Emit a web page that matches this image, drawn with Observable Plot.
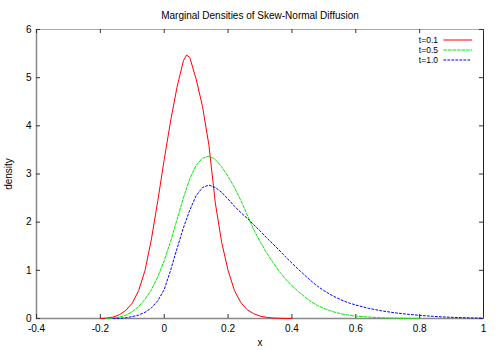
<!DOCTYPE html>
<html><head><meta charset="utf-8">
<script src="https://cdn.jsdelivr.net/npm/d3@7"></script>
<script src="https://cdn.jsdelivr.net/npm/@observablehq/plot@0.6"></script>
<style>body{margin:0;background:#fff}</style>
</head><body><div id="chart"></div>
<script>
const title = "Marginal Densities of Skew-Normal Diffusion";
const xLabel = "x";
const yLabel = "density";
const seriesNames = ["t=0.1", "t=0.5", "t=1.0"];
const xTicks = [-0.4, -0.2, 0, 0.2, 0.4, 0.6, 0.8, 1];
const xTickLabels = ["-0.4", "-0.2", "0", "0.2", "0.4", "0.6", "0.8", "1"];
const yTicks = [0, 1, 2, 3, 4, 5, 6];
const yTickLabels = ["0", "1", "2", "3", "4", "5", "6"];

const x01 = [-0.2, -0.18, -0.16, -0.14, -0.12, -0.10, -0.08, -0.06, -0.04, -0.02, 0.00, 0.02, 0.04, 0.06, 0.07, 0.08, 0.10, 0.12, 0.14, 0.16, 0.18, 0.20, 0.22, 0.24, 0.26, 0.28, 0.30, 0.32, 0.34, 0.36, 0.40];
const y01 = [0.00, 0.01, 0.03, 0.08, 0.17, 0.32, 0.58, 1.00, 1.65, 2.45, 3.30, 4.10, 4.80, 5.35, 5.47, 5.42, 4.97, 4.40, 3.60, 2.40, 1.58, 1.00, 0.58, 0.33, 0.18, 0.10, 0.05, 0.025, 0.01, 0.005, 0];

const x05 = [-0.18, -0.16, -0.14, -0.12, -0.10, -0.08, -0.06, -0.04, -0.02, 0.00, 0.02, 0.04, 0.06, 0.08, 0.10, 0.12, 0.14, 0.16, 0.18, 0.20, 0.22, 0.24, 0.26, 0.28, 0.30, 0.32, 0.34, 0.36, 0.38, 0.40, 0.42, 0.44, 0.46, 0.48, 0.50, 0.52, 0.54, 0.56, 0.58, 0.60, 0.64, 0.68, 0.72, 0.76, 0.80];
const y05 = [0.00, 0.01, 0.03, 0.07, 0.14, 0.25, 0.40, 0.60, 0.87, 1.20, 1.60, 2.05, 2.50, 2.90, 3.18, 3.33, 3.37, 3.30, 3.15, 2.95, 2.72, 2.45, 2.15, 1.85, 1.60, 1.37, 1.17, 0.98, 0.82, 0.68, 0.56, 0.45, 0.35, 0.27, 0.21, 0.16, 0.12, 0.09, 0.07, 0.05, 0.03, 0.015, 0.007, 0.003, 0];

const x10 = [-0.16, -0.14, -0.12, -0.10, -0.08, -0.06, -0.04, -0.02, 0.00, 0.02, 0.04, 0.06, 0.08, 0.10, 0.12, 0.14, 0.16, 0.18, 0.20, 0.22, 0.24, 0.26, 0.28, 0.30, 0.32, 0.34, 0.36, 0.38, 0.40, 0.42, 0.44, 0.46, 0.48, 0.50, 0.52, 0.54, 0.56, 0.58, 0.60, 0.64, 0.68, 0.72, 0.76, 0.80, 0.84, 0.88, 0.92, 0.96, 1.00];
const y10 = [0.00, 0.005, 0.015, 0.04, 0.07, 0.13, 0.22, 0.37, 0.60, 1.00, 1.45, 1.88, 2.25, 2.55, 2.72, 2.77, 2.72, 2.62, 2.48, 2.33, 2.20, 2.08, 1.95, 1.82, 1.68, 1.55, 1.42, 1.28, 1.15, 1.02, 0.90, 0.78, 0.67, 0.58, 0.50, 0.43, 0.37, 0.32, 0.28, 0.21, 0.16, 0.12, 0.09, 0.065, 0.045, 0.03, 0.02, 0.012, 0.007];

const toRows = (xs, ys) => xs.map((x, i) => ({x, y: ys[i]}));
const series = [
  {name: seriesNames[0], rows: toRows(x01, y01), stroke: "#ff0000", dash: null},
  {name: seriesNames[1], rows: toRows(x05, y05), stroke: "#00ee00", dash: "3,1.5"},
  {name: seriesNames[2], rows: toRows(x10, y10), stroke: "#0000ff", dash: "2,2"}
];

const W = 500, H = 350, mL = 36, mR = 17, mT = 29, mB = 32;
const fw = W - mL - mR, fh = H - mT - mB;
const tickLen = 4;
const font = "Liberation Sans, Arial, Helvetica, sans-serif";
const lineShape = {draw(ctx, l) { ctx.moveTo(0, 0); ctx.lineTo(0, -l); }};
const rowGap = 10;
const row0 = 10.5;

const marks = [
  // frame
  Plot.ruleY([yTicks[yTicks.length - 1]], {stroke: "#aaa", strokeWidth: 1}),
  Plot.ruleX([xTicks[xTicks.length - 1]], {stroke: "#222", strokeWidth: 1}),
  Plot.ruleY([yTicks[0]], {stroke: "#888", strokeWidth: 1.5}),
  Plot.ruleX([xTicks[0]], {stroke: "#888", strokeWidth: 1.5}),
  // inward ticks (mirrored)
  Plot.tickX(xTicks, {x: d => d, insetTop: fh - tickLen, stroke: "#333"}),
  Plot.tickX(xTicks, {x: d => d, insetBottom: fh - tickLen, stroke: "#333"}),
  Plot.tickY(yTicks, {y: d => d, insetRight: fw - tickLen, stroke: "#333"}),
  Plot.tickY(yTicks, {y: d => d, insetLeft: fw - tickLen, stroke: "#333"}),
  // tick labels
  Plot.axisX({ticks: xTicks, tickSize: 0, tickPadding: 6, label: null, fontSize: 10,
    tickFormat: d => xTickLabels[xTicks.indexOf(d)]}),
  Plot.axisY({ticks: yTicks, tickSize: 0, tickPadding: 5, label: null, fontSize: 10,
    tickFormat: d => yTickLabels[yTicks.indexOf(d)]}),
  // axis labels and title
  Plot.text([title], {text: d => d, frameAnchor: "top", lineAnchor: "middle", dy: -14, fontSize: 10}),
  Plot.text([xLabel], {text: d => d, frameAnchor: "bottom", lineAnchor: "middle", dy: 24, fontSize: 10}),
  Plot.text([yLabel], {text: d => d, frameAnchor: "left", textAnchor: "middle", lineAnchor: "middle", rotate: -90, dx: -27.5, fontSize: 10}),
];

series.forEach((s) => {
  marks.push(Plot.line(s.rows, {x: "x", y: "y", stroke: s.stroke, strokeWidth: 1, strokeDasharray: s.dash}));
});
series.forEach((s, i) => {
  marks.push(Plot.text([s.name], {text: d => d, frameAnchor: "top-right", textAnchor: "end", lineAnchor: "middle", dx: -45.5, dy: row0 + i * rowGap, fontSize: 8.5}));
  marks.push(Plot.vector([s.name], {frameAnchor: "top-right", anchor: "start", rotate: 90, length: 28, shape: lineShape, dx: -39.7, dy: row0 + i * rowGap, stroke: s.stroke, strokeWidth: 1, strokeDasharray: s.dash}));
});

const plot = Plot.plot({
  width: W, height: H,
  marginLeft: mL, marginRight: mR, marginTop: mT, marginBottom: mB,
  style: {fontFamily: font, fontSize: "10px", background: "#fff", color: "#000"},
  x: {domain: [xTicks[0], xTicks[xTicks.length - 1]]},
  y: {domain: [yTicks[0], yTicks[yTicks.length - 1]]},
  marks
});
document.getElementById("chart").appendChild(plot);
</script>
</body></html>
